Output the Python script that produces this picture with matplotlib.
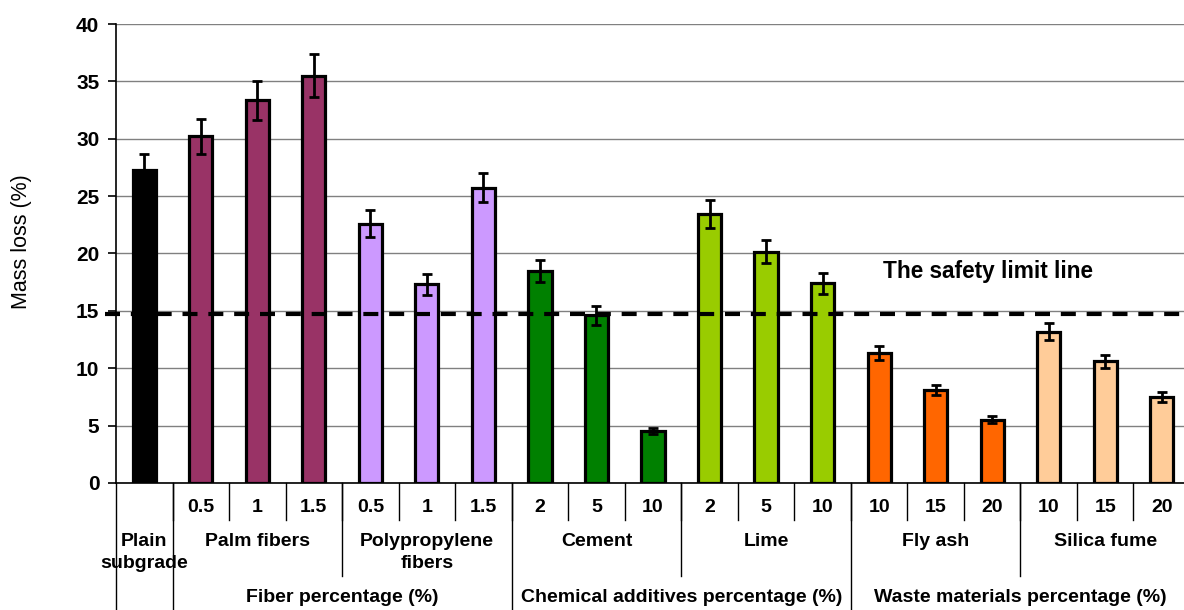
import matplotlib
matplotlib.use("Agg")
import matplotlib.pyplot as plt
import numpy as np

plt.rcParams['font.family'] = ['Liberation Sans', 'DejaVu Sans']

# Mass loss per mix, with standard deviations
mix_labels = ["", "0.5", "1", "1.5", "0.5", "1", "1.5",
              "2", "5", "10", "2", "5", "10",
              "10", "15", "20", "10", "15", "20"]
mass_loss = [27.3, 30.2, 33.35, 35.5, 22.6, 17.3, 25.75,
             18.5, 14.6, 4.5, 23.45, 20.15, 17.4,
             11.3, 8.1, 5.5, 13.2, 10.6, 7.5]
mass_err = [1.4, 1.5, 1.7, 1.85, 1.2, 0.9, 1.3,
            0.95, 0.8, 0.25, 1.2, 1.0, 0.9,
            0.6, 0.45, 0.3, 0.7, 0.55, 0.4]

# Additive groups: name lines, bar count, fill colour
group_names = [["Plain", "subgrade"], ["Palm fibers"], ["Polypropylene", "fibers"],
               ["Cement"], ["Lime"], ["Fly ash"], ["Silica fume"]]
group_sizes = [1, 3, 3, 3, 3, 3, 3]
group_colors = ["#000000", "#993366", "#CC99FF", "#008000",
                "#99CC00", "#FF6600", "#FFCC99"]

# Upper category rows spanning several groups
family_names = ["Fiber percentage (%)", "Chemical additives percentage (%)",
                "Waste materials percentage (%)"]
family_groups = [[1, 2], [3, 4], [5, 6]]

safety_limit = 14.7
y_ticks = [0, 5, 10, 15, 20, 25, 30, 35, 40]

W, H = 1184, 610
fig = plt.figure(figsize=(W / 100, H / 100), dpi=100)
ax = fig.add_axes([116 / W, 1 - 483 / H, (1190 - 116) / W, (483 - 24) / H])

bar_colors = []
for c, n in zip(group_colors, group_sizes):
    bar_colors += [c] * n
x = np.arange(len(mass_loss))

ax.bar(x, mass_loss, width=0.41, color=bar_colors, edgecolor="black",
       linewidth=2.3, zorder=3)
ax.errorbar(x, mass_loss, yerr=mass_err, fmt="none", ecolor="black",
            elinewidth=2.0, capsize=3.4, capthick=2.0, zorder=4)

# Safety limit dashed line
ax.axhline(safety_limit, xmin=-0.01, xmax=1.0, color="black", lw=3.0,
           linestyle=(0, (3.6, 2.6)), zorder=5, clip_on=False)
ax.text(14.93, 18.45, "The safety limit line", ha="center", va="center",
        fontsize=16.3, fontweight="bold", zorder=6)

ax.set_xlim(-0.5, len(mass_loss) - 0.5)
ax.set_ylim(0, 40)
ax.set_yticks(y_ticks)
ax.set_yticklabels([str(v) for v in y_ticks], fontsize=15, fontweight="bold")
ax.tick_params(axis="y", direction="out", length=6, width=1.2, pad=6)
ax.set_xticks([])
ax.yaxis.grid(True, color="#808080", lw=1.0, zorder=0)
ax.set_axisbelow(True)
for s in ["top", "right"]:
    ax.spines[s].set_visible(False)
ax.spines["left"].set_linewidth(1.2)
ax.spines["bottom"].set_linewidth(1.2)

fig.text(22 / W, 1 - 242 / H, "Mass loss (%)", rotation=90, ha="center",
         va="center", fontsize=15.5)

# Category table under the axis
tr = ax.get_xaxis_transform()
px = 1.0 / (483 - 24)
row1_end = -(520 - 483) * px
row2_end = -(576 - 483) * px
full_end = -(615 - 483) * px
line_kw = dict(color="black", lw=1.0, transform=tr, clip_on=False)
txt_kw = dict(ha="center", va="center", fontsize=14, fontweight="bold",
              transform=tr)

ax.plot([-0.5, -0.5], [0, full_end], **line_kw)
for i in range(1, len(mass_loss)):
    ax.plot([i - 0.5, i - 0.5], [0, row1_end], **line_kw)

for i, lab in enumerate(mix_labels):
    if lab:
        ax.text(i, -(508 - 483) * px, lab, **txt_kw)

starts = np.cumsum([0] + group_sizes[:-1])
family_starts = {fg[0] for fg in family_groups}
for g, (names, s, n) in enumerate(zip(group_names, starts, group_sizes)):
    cx = s + (n - 1) / 2
    ys = [542] if len(names) == 1 else [542, 564]
    for nm, yy in zip(names, ys):
        ax.text(cx, -(yy - 483) * px, nm, **txt_kw)
    if g > 0:
        end = full_end if g in family_starts else row2_end
        ax.plot([s - 0.5, s - 0.5], [0, end], **line_kw)

for name, gs in zip(family_names, family_groups):
    first = starts[gs[0]]
    last = starts[gs[-1]] + group_sizes[gs[-1]] - 1
    ax.text((first + last) / 2, -(598 - 483) * px, name, **txt_kw)

fig.savefig("out.png", dpi=100)
